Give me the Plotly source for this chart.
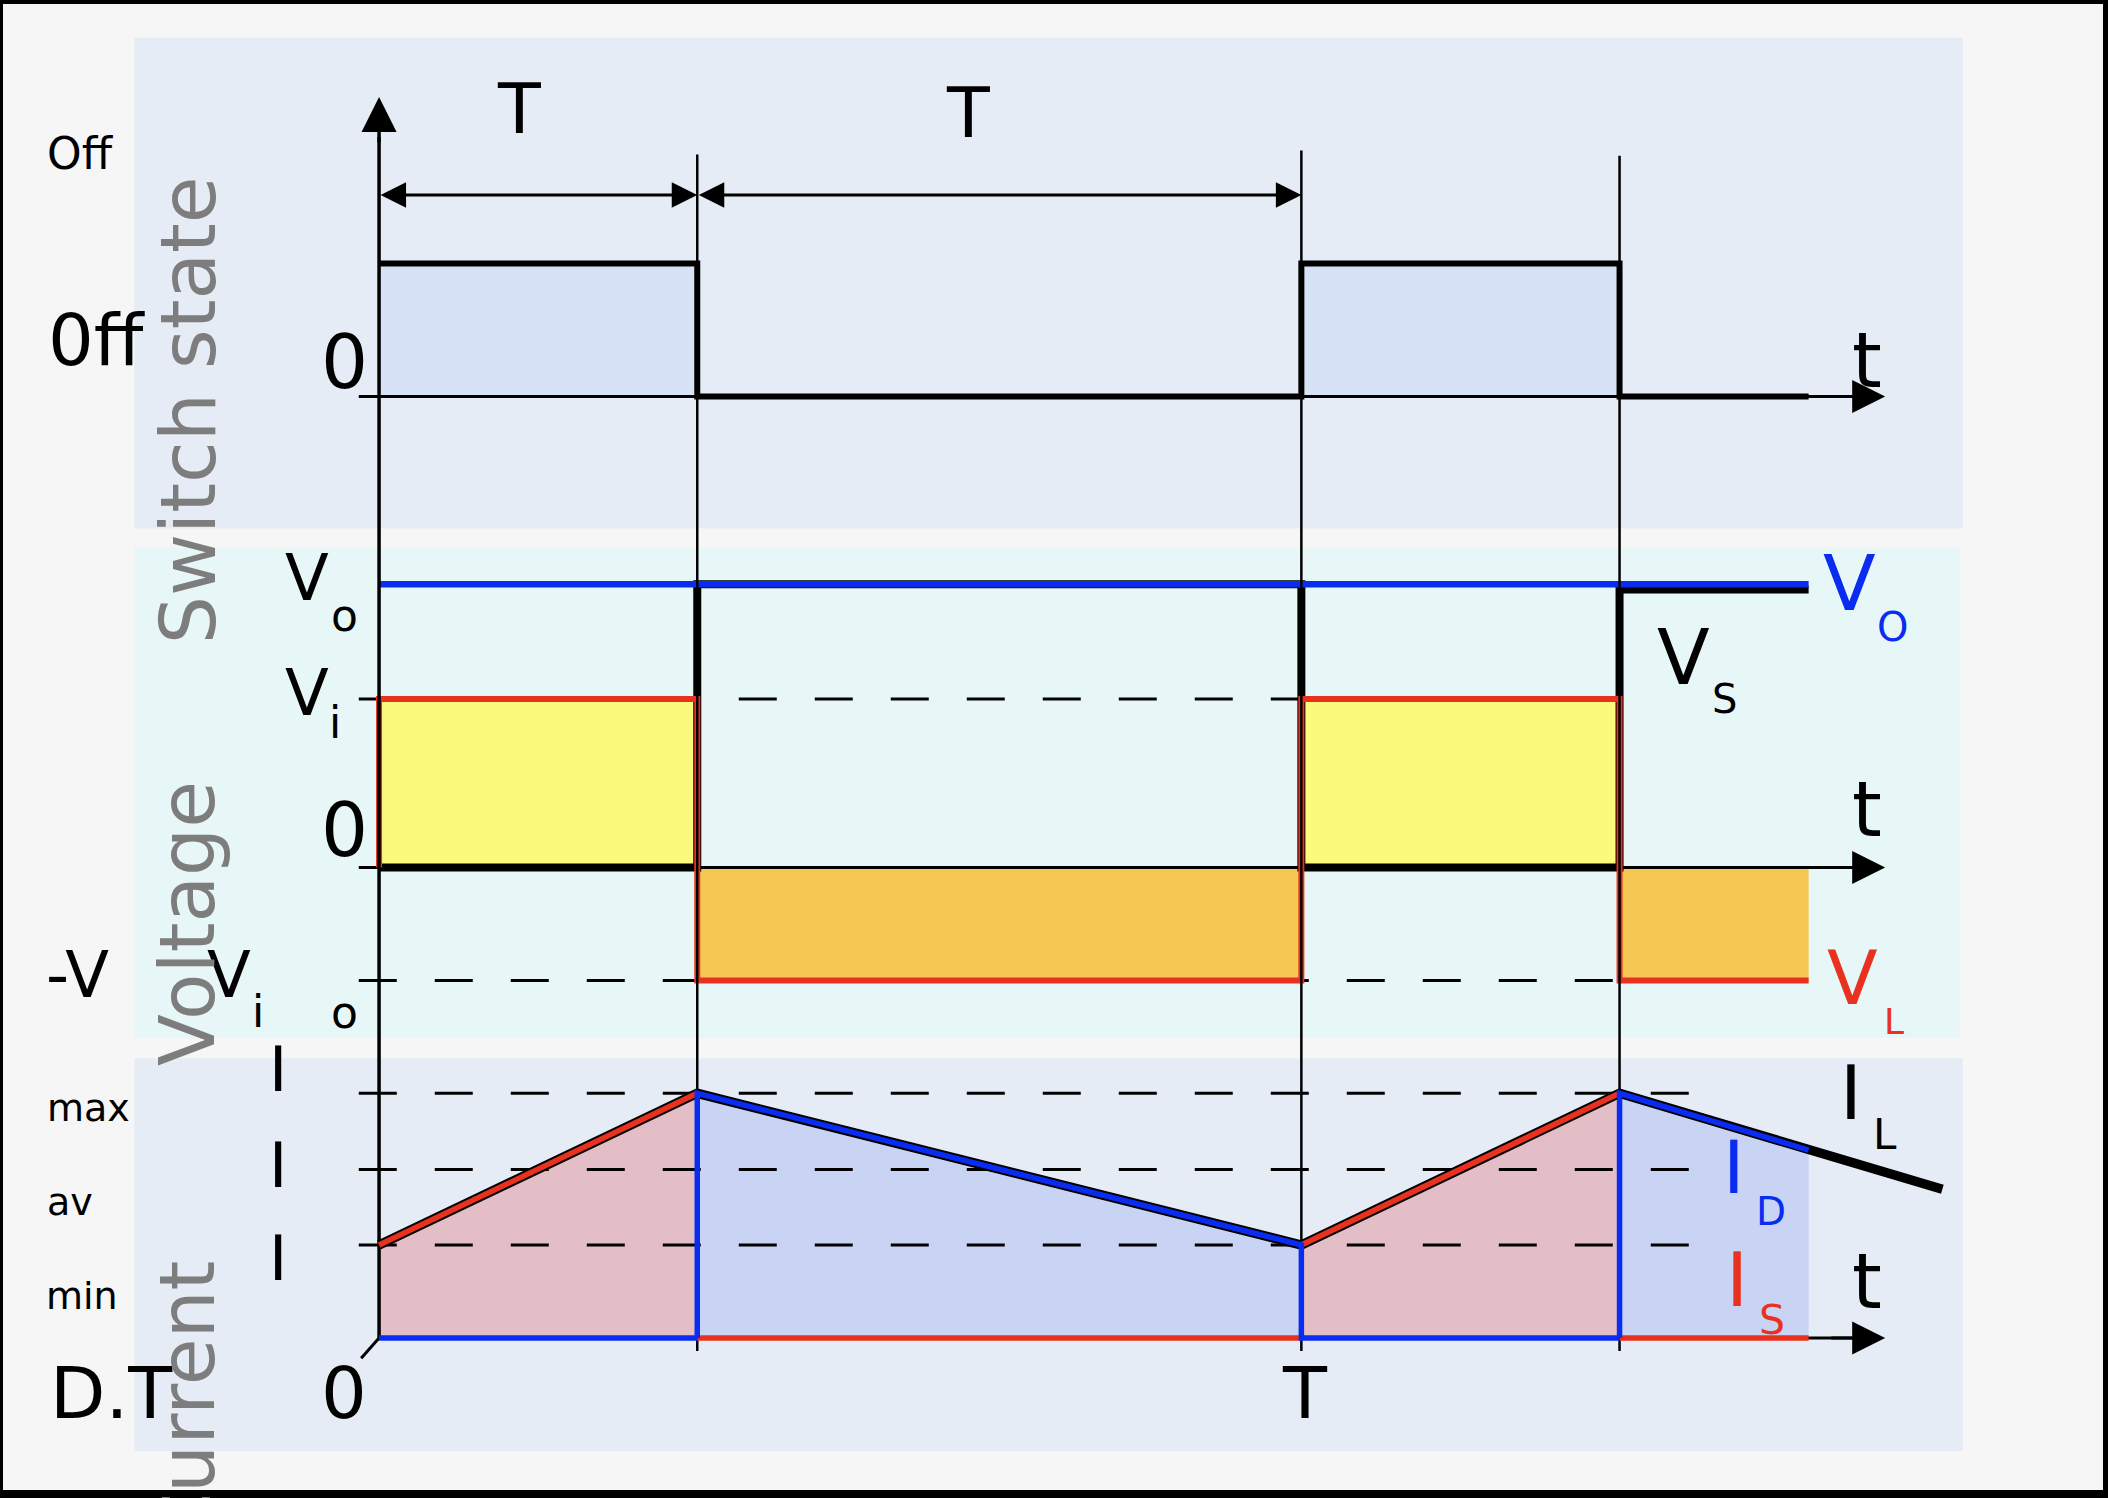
import plotly.graph_objects as go

W, H = 2108, 1498
FONT = "DejaVu Sans"

# ---------------- data (time in units of the period T) ----------------
D = 0.345                  # duty cycle (switch on for D.T)
ON_STARTS = [0.0, 1.0]     # instants where the switch closes
T_END = 1.55               # end of drawn waveforms
T_AXIS_END = 1.633         # tip of the t-axis arrows
T_STUB = -0.022            # axes start slightly left of the origin
T_DASH_END_I = 1.43        # end of current reference dashes
T_IL_END = 1.695           # extension of I_L
DIAG_STUB = (-0.0194, -0.083)

# switch state levels
SW_LOW, SW_HIGH = 0.0, 1.0
# voltages (Vi = 1)
V_I = 1.0
V_O = 1.68
V_S_HIGH = [1.68, 1.65]    # V_S level in the two off intervals
V_L_NEG = -0.671
# currents (Imax = 1)
I_MIN, I_AV, I_MAX = 0.38, 0.689, 1.0
I_D_END = 0.768
I_L_END = 0.608

# vertical guide lines (tops on the switch axis, bottom on current axis)
GUIDE_T = [D, 1.0, 1.0 + D]
GUIDE_TOP = [1.82, 1.85, 1.81]
GUIDE_BOTTOM = -0.053
Y_AXIS_TIP, Y_AXIS_BASE = 2.252, 1.95
T_DIM_LEVEL = 1.515

# axis frames
X_RANGE = [-0.4110, 1.8746]
Y_SW = [-8.282, 2.981]
Y_V = [-3.742, 5.148]
Y_I = [-0.654, 5.468]

BLACK = "#000000"
RED = "#e8321f"
BLUE = "#0a2cf0"
GRAY = "#7d7d7d"


def conv(v, src, dst):
    f = (v - src[0]) / (src[1] - src[0])
    return dst[0] + f * (dst[1] - dst[0])


def polys(rects):
    xs, ys = [], []
    for px, py in rects:
        xs += list(px) + [None]
        ys += list(py) + [None]
    return xs, ys


fig = go.Figure()


def line(x, y, yax, color=BLACK, width=3, dash=None):
    fig.add_trace(go.Scatter(x=x, y=y, yaxis=yax, mode="lines",
                             line=dict(color=color, width=width, dash=dash),
                             hoverinfo="skip", showlegend=False))


def fill(x, y, yax, color):
    fig.add_trace(go.Scatter(x=x, y=y, yaxis=yax, mode="lines", fill="toself",
                             fillcolor=color, line=dict(width=0),
                             hoverinfo="skip", showlegend=False))


off_iv = [(ON_STARTS[0] + D, ON_STARTS[1]), (ON_STARTS[1] + D, T_END)]

# ---------------- switch state ----------------
fx, fy = polys([([s, s, s + D, s + D], [SW_LOW, SW_HIGH, SW_HIGH, SW_LOW]) for s in ON_STARTS])
fill(fx, fy, "y", "#d6e3f6")
line([T_STUB, T_AXIS_END - 0.02], [0, 0], "y", width=3)
sw_x, sw_y = [], []
for s, (a, b) in zip(ON_STARTS, off_iv):
    sw_x += [s, a, a, b]
    sw_y += [SW_HIGH, SW_HIGH, SW_LOW, SW_LOW]
line(sw_x, sw_y, "y", width=6)

# ---------------- voltage ----------------
fx, fy = polys([([s, s, s + D, s + D], [0, V_I, V_I, 0]) for s in ON_STARTS])
fill(fx, fy, "y2", "#fcfa7c")
fx, fy = polys([([a, a, b, b], [0, V_L_NEG, V_L_NEG, 0]) for a, b in off_iv])
fill(fx, fy, "y2", "#f6c853")
line([T_STUB, 1 + D], [V_I, V_I], "y2", width=3, dash="38px,38px")
line([T_STUB, 1 + D], [V_L_NEG, V_L_NEG], "y2", width=3, dash="38px,38px")
line([T_STUB, T_AXIS_END - 0.02], [0, 0], "y2", width=3)
vs_x, vs_y = [], []
for s, (a, b), hi in zip(ON_STARTS, off_iv, V_S_HIGH):
    vs_x += [s, a, a, b]
    vs_y += [0, 0, hi, hi]
line(vs_x, vs_y, "y2", width=8)
vl_x, vl_y = [ON_STARTS[0]], [0]
for s, (a, b) in zip(ON_STARTS, off_iv):
    vl_x += [s, a, a, b]
    vl_y += [V_I, V_I, V_L_NEG, V_L_NEG]
line(vl_x, vl_y, "y2", color=RED, width=6)
line([0, T_END], [V_O, V_O], "y2", color=BLUE, width=6.5)

# ---------------- current ----------------
fx, fy = polys([([s, s, s + D, s + D], [0, I_MIN, I_MAX, 0]) for s in ON_STARTS])
fill(fx, fy, "y3", "#e3bec6")
fx, fy = polys([([D, D, 1, 1], [0, I_MAX, I_MIN, 0]),
                ([1 + D, 1 + D, T_END, T_END], [0, I_MAX, I_D_END, 0])])
fill(fx, fy, "y3", "#c9d4f4")
for lev in (I_MAX, I_AV, I_MIN):
    line([T_STUB, T_DASH_END_I], [lev, lev], "y3", width=3, dash="38px,38px")
line([0, T_AXIS_END - 0.02], [0, 0], "y3", width=3)
line([DIAG_STUB[0], 0], [DIAG_STUB[1], 0], "y3", width=3)

# guides and vertical axis (on the current axis which spans the full figure)
gx, gy = [], []
for t, top in zip(GUIDE_T, GUIDE_TOP):
    gx += [t, t, None]
    gy += [GUIDE_BOTTOM, conv(top, Y_SW, Y_I), None]
line(gx, gy, "y3", width=2.5)
line([0, 0], [0, conv(Y_AXIS_BASE, Y_SW, Y_I)], "y3", width=3.5)

il_x = [0, D, 1, 1 + D, T_IL_END]
il_y = [I_MIN, I_MAX, I_MIN, I_MAX, I_L_END]
line(il_x, il_y, "y3", width=9.5)
is_x = [0, D, None, 1, 1 + D, None, D, 1, None, 1 + D, T_END]
is_y = [I_MIN, I_MAX, None, I_MIN, I_MAX, None, 0, 0, None, 0, 0]
line(is_x, is_y, "y3", color=RED, width=5.5)
id_x = [0, D, None, D, D, 1, 1, 1 + D, None, 1 + D, 1 + D, T_END]
id_y = [0, 0, None, 0, I_MAX, I_MIN, 0, 0, None, 0, I_MAX, I_D_END]
line(id_x, id_y, "y3", color=BLUE, width=5.5)

# ---------------- annotations ----------------
ann = []


def arrow(x, y, ax, ay, yref, both=False, size=2.2, width=3):
    a = dict(x=x, y=y, ax=ax, ay=ay, xref="x", yref=yref, axref="x", ayref=yref,
             text="", showarrow=True, arrowhead=2, arrowsize=size, arrowwidth=width,
             arrowcolor=BLACK, standoff=0, startstandoff=0)
    if both:
        a.update(arrowside="end+start", startarrowhead=2, startarrowsize=size)
    ann.append(a)


arrow(0, Y_AXIS_TIP, 0, Y_AXIS_BASE - 0.05, "y", size=2.0, width=3.5)
for yr in ("y", "y2", "y3"):
    arrow(T_AXIS_END, 0, T_AXIS_END - 0.06, 0, yr, size=2.2)
arrow(D, T_DIM_LEVEL, 0, T_DIM_LEVEL, "y", both=True, size=1.7)
arrow(1, T_DIM_LEVEL, D, T_DIM_LEVEL, "y", both=True, size=1.7)


def lbl(text, xs, ys, size, color=BLACK, angle=0):
    ann.append(dict(text=text, x=xs / 1568, y=1 - ys / 1114, xref="paper", yref="paper",
                    xanchor="center", yanchor="middle", showarrow=False, textangle=angle,
                    font=dict(family=FONT, size=size, color=color)))


labels = [
    ("T", 386, 81, 70), ("T", 720, 84, 70),
    ("Off", 60, 114, 44), ("0ff", 72, 253, 72),
    ("0", 256, 269, 74), ("t", 1389, 268, 76),
    ("V", 228, 430, 64), ("o", 256, 458, 44),
    ("V", 228, 515, 64), ("i", 249, 537, 44),
    ("0", 256, 617, 74), ("t", 1389, 602, 76),
    ("-V", 58, 725, 64), ("V", 170, 725, 64), ("i", 192, 752, 44), ("o", 256, 753, 44),
    ("V", 1252, 489, 77), ("S", 1283, 520, 40),
    ("I", 207, 795, 62), ("max", 66, 824, 38),
    ("I", 207, 867, 62), ("av", 52, 894, 38),
    ("I", 207, 936, 62), ("min", 61, 964, 38),
    ("D.T", 83, 1036, 72), ("0", 256, 1036, 72), ("T", 971, 1036, 72),
    ("t", 1389, 953, 76),
    ("I", 1377, 813, 74), ("L", 1402, 844, 42),
]
for t_, xs, ys, sz in labels:
    lbl(t_, xs, ys, sz)
lbl("V", 1376, 434, 77, BLUE); lbl("O", 1408, 466, 40, BLUE)
lbl("V", 1378, 727, 74, RED); lbl("L", 1409, 760, 36, RED)
lbl("I", 1290, 868, 73, BLUE); lbl("D", 1317, 901, 39, BLUE)
lbl("I", 1292, 952, 75, RED); lbl("S", 1318, 982, 41, RED)
lbl("Switch state", 140, 305, 76, GRAY, -90)
lbl("Voltage", 140, 687, 76, GRAY, -90)
lbl("Current", 140, 1044, 76, GRAY, -90)

# ---------------- background panels / frame ----------------
def prect(x0, y0, x1, y1, color):
    return dict(type="rect", xref="paper", yref="paper", x0=x0 / 1568, x1=x1 / 1568,
                y0=1 - y1 / 1114, y1=1 - y0 / 1114, fillcolor=color,
                line=dict(width=0), layer="below")

shapes = [
    prect(100, 28, 1460, 393, "#e5ecf6"),
    prect(100, 407, 1458, 772, "#e7f7f7"),
    prect(100, 787, 1460, 1079, "#e5ecf6"),
]
for x0, y0, x1, y1 in [(0, 0, W, 4), (0, 1490, W, H), (0, 0, 3, H), (2103, 0, W, H)]:
    shapes.append(dict(type="rect", xref="paper", yref="paper", x0=x0 / W, x1=x1 / W,
                       y0=1 - y1 / H, y1=1 - y0 / H, fillcolor=BLACK,
                       line=dict(width=0), layer="above"))

ax_common = dict(visible=False, fixedrange=True, showgrid=False, zeroline=False)
fig.update_layout(
    width=W, height=H, margin=dict(l=0, r=0, t=0, b=0, pad=0),
    paper_bgcolor="#f6f6f6", plot_bgcolor="rgba(0,0,0,0)",
    showlegend=False, annotations=ann, shapes=shapes,
    xaxis=dict(range=X_RANGE, domain=[0, 1], **ax_common),
    yaxis=dict(range=Y_SW, domain=[0, 1], **ax_common),
    yaxis2=dict(range=Y_V, domain=[0, 1], overlaying="y", **ax_common),
    yaxis3=dict(range=Y_I, domain=[0, 1], overlaying="y", **ax_common),
    font=dict(family=FONT),
)

fig.write_html("out.html", config={"displayModeBar": False, "staticPlot": True},
               post_script="document.body.style.margin='0';document.body.style.overflow='hidden';")
